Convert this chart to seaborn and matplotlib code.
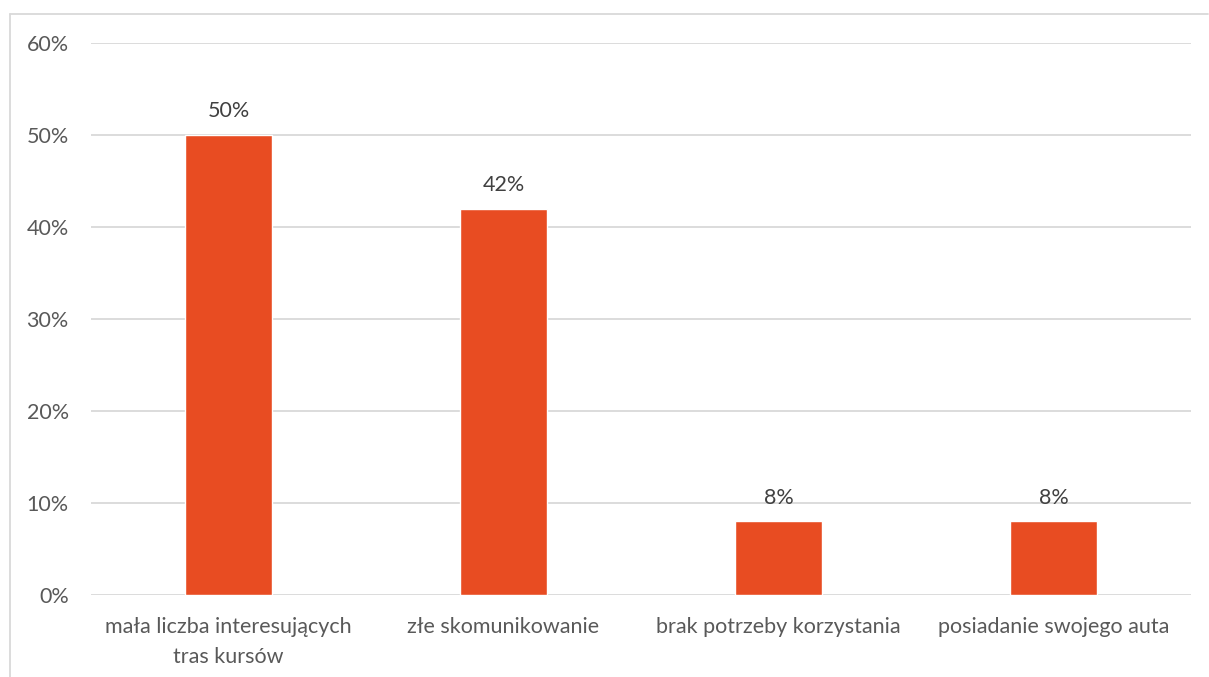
import matplotlib
matplotlib.use("Agg")
import matplotlib.pyplot as plt
import seaborn as sns
import pandas as pd
from matplotlib.lines import Line2D

categories = ["mała liczba interesujących\ntras kursów", "złe skomunikowanie",
              "brak potrzeby korzystania", "posiadanie swojego auta"]
values = [50, 42, 8, 8]
tick_values = [0, 10, 20, 30, 40, 50, 60]
tick_labels = ["0%", "10%", "20%", "30%", "40%", "50%", "60%"]

sns.set_theme(style="white")
plt.rcParams['font.family'] = ['Lato', 'DejaVu Sans']

W, H = 1209, 677
fig = plt.figure(figsize=(W/100, H/100), dpi=100)
ax = fig.add_axes([91/W, 1-595/H, (1191-91)/W, (595-43)/H])

df = pd.DataFrame({"cat": categories, "val": values})
sns.barplot(data=df, x="cat", y="val", color="#E84C22", width=0.315, ax=ax,
            saturation=1, zorder=3)

ax.set_ylim(0, 60)
ax.set_yticks(tick_values)
ax.set_yticklabels(tick_labels)
ax.set_xlim(-0.5, 3.5)
ax.grid(axis="y", color="#D9D9D9", linewidth=1.3, zorder=0)
ax.set_axisbelow(True)
for s in ax.spines.values():
    s.set_visible(False)
ax.set_xlabel("")
ax.set_ylabel("")
ax.tick_params(axis="y", length=0, pad=16, labelsize=15.5, labelcolor="#595959")
ax.tick_params(axis="x", length=0, pad=16, labelsize=15.5, labelcolor="#595959")
for lab in ax.get_xticklabels():
    lab.set_linespacing(1.6)

for i, v in enumerate(values):
    ax.annotate(f"{v}%", (i, v), xytext=(0, 10), textcoords="offset points",
                ha="center", va="bottom", fontsize=15.5, color="#404040")

# outer chart border (top and left visible)
fig.add_artist(Line2D([10/W, 10/W], [0, 1-14/H], transform=fig.transFigure,
                      color="#D9D9D9", linewidth=1.3))
fig.add_artist(Line2D([10/W, 1208/W], [1-14/H, 1-14/H], transform=fig.transFigure,
                      color="#D9D9D9", linewidth=1.3))

fig.savefig("out.png", dpi=100)
